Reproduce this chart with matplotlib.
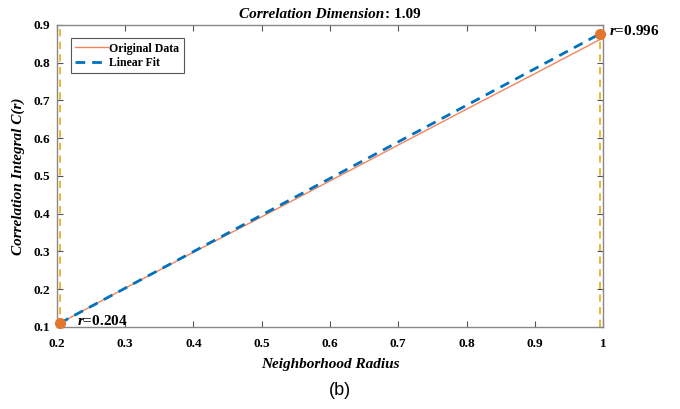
import matplotlib
matplotlib.use("Agg")
import matplotlib.pyplot as plt

plt.rcParams["mathtext.fontset"] = "custom"
plt.rcParams["mathtext.it"] = "Liberation Serif:italic:bold"
plt.rcParams["mathtext.rm"] = "Liberation Serif:bold"

r_data = [0.204, 0.3, 0.4, 0.5, 0.6, 0.7, 0.8, 0.9, 0.996]
c_data = [0.110, 0.203, 0.298, 0.392, 0.487, 0.582, 0.677, 0.771, 0.862]
r_fit = [0.204, 0.996]
c_fit = [0.110, 0.877]
r_min, r_max = 0.204, 0.996
dim_value = 1.09
xticks = [0.2, 0.3, 0.4, 0.5, 0.6, 0.7, 0.8, 0.9, 1.0]
xticklabels = ["0.2", "0.3", "0.4", "0.5", "0.6", "0.7", "0.8", "0.9", "1"]
yticks = [0.1, 0.2, 0.3, 0.4, 0.5, 0.6, 0.7, 0.8, 0.9]

serif = "Liberation Serif"
fig = plt.figure(figsize=(6.8, 4.09), dpi=100)
ax = fig.add_axes([0.0838, 0.2005, 0.803, 0.7384])

ax.axvline(r_min, color="#EDB120", ls=(0, (4, 3)), lw=1.3, zorder=1)
ax.axvline(r_max, color="#EDB120", ls=(0, (4, 3)), lw=1.3, zorder=1)
ax.plot(r_data, c_data, color="#F4845F", lw=1.0, label="Original Data", zorder=2)
ax.plot(r_fit, c_fit, color="#0072BD", lw=2.0, ls=(0, (3.5, 2.5)), label="Linear Fit", zorder=3)
ax.plot([r_min, r_max], [c_data[0], c_fit[1]], "o", color="#E2762F", ms=7, zorder=4, clip_on=False)

ax.set_xlim(0.2, 1.0)
ax.set_ylim(0.1, 0.9)
ax.set_xticks(xticks)
ax.set_xticklabels(xticklabels)
ax.set_yticks(yticks)
ax.tick_params(direction="in", top=True, right=True, length=4, color="#555555")
ax.tick_params(axis="x", pad=8)
ax.tick_params(axis="y", pad=5)
for lab in ax.get_xticklabels() + ax.get_yticklabels():
    lab.set_fontfamily(serif)
    lab.set_fontweight("bold")
    lab.set_fontsize(9.5)
for s in ax.spines.values():
    s.set_color("#888888")
    s.set_linewidth(1.0)

ax.text(r_max + 0.013, c_fit[1] - 0.012, r"$r$" + "=0.996", fontfamily=serif,
        fontweight="bold", fontsize=11, ha="left", va="bottom")
ax.text(r_min + 0.026, c_data[0] - 0.012, r"$r$" + "=0.204", fontfamily=serif,
        fontweight="bold", fontsize=11, ha="left", va="bottom")

split = 0.60
ax.text(split, 1.012, "Correlation Dimension", transform=ax.transAxes, fontfamily=serif,
        fontweight="bold", fontstyle="italic", fontsize=11, ha="right", va="bottom")
ax.text(split, 1.012, ": %.2f" % dim_value, transform=ax.transAxes, fontfamily=serif,
        fontweight="bold", fontsize=11, ha="left", va="bottom")

ax.set_xlabel("Neighborhood Radius", fontfamily=serif, fontweight="bold",
              fontstyle="italic", fontsize=11, labelpad=6)
ax.set_ylabel("Correlation Integral C(r)", fontfamily=serif, fontweight="bold",
              fontstyle="italic", fontsize=11, labelpad=6)

leg = ax.legend(loc="upper left", prop={"family": serif, "weight": "bold", "size": 8.5},
                handlelength=2.8, handletextpad=0.1, borderpad=0.35, labelspacing=0.2,
                fancybox=False, edgecolor="#555555", framealpha=1,
                bbox_to_anchor=(0.015, 0.975))
leg.get_frame().set_linewidth(0.8)

fig.text(0.5, 0.045, "(b)", fontfamily="Liberation Sans", fontsize=13, ha="center", va="center")

fig.savefig("out.png", dpi=100)
